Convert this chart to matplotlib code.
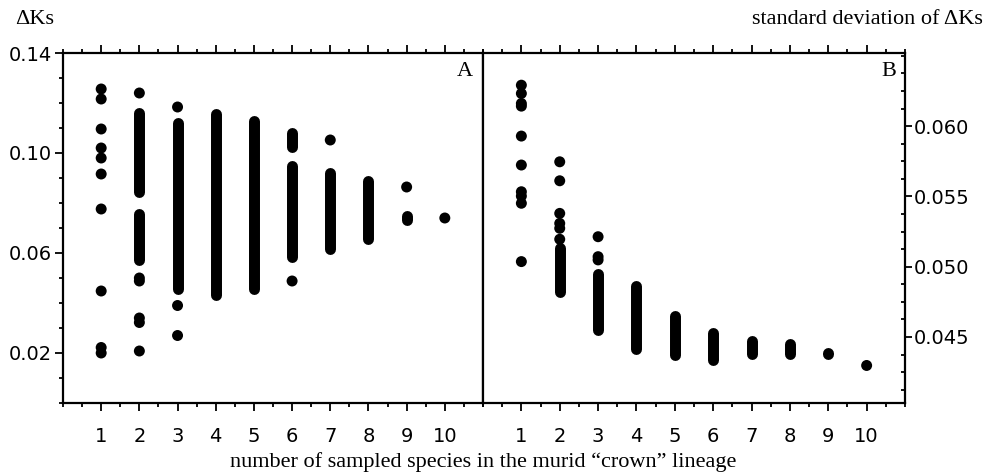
import matplotlib.pyplot as plt
from matplotlib.ticker import MultipleLocator, FixedLocator

# Panel A: delta Ks. Isolated points, plus the solid runs of overlapping
# points given as (x, top, bottom).
a_x = [1]*10 + [2]*6 + [3]*3 + [6, 7, 9, 10]
a_y = [0.1256, 0.1216, 0.1096, 0.1020, 0.0980, 0.0916, 0.0776, 0.0448, 0.0222, 0.0200,
       0.1240, 0.0500, 0.0488, 0.0340, 0.0322, 0.0208,
       0.1184, 0.0390, 0.0270,
       0.0488, 0.1052, 0.0864, 0.0740]
a_run_x = [2, 2, 3, 4, 5, 6, 6, 7, 8, 9]
a_run_top = [0.1162, 0.0758, 0.1122, 0.1158, 0.1130, 0.1082, 0.0950, 0.0922, 0.0890, 0.0750]
a_run_bot = [0.0846, 0.0574, 0.0458, 0.0434, 0.0458, 0.1026, 0.0586, 0.0618, 0.0658, 0.0734]

# Panel B: standard deviation of delta Ks
b_x = [1]*10 + [2]*6 + [3]*3 + [10]
b_y = [0.06291, 0.06232, 0.06161, 0.06142, 0.05929, 0.05723, 0.05533, 0.05502, 0.05451, 0.05036,
       0.05746, 0.05611, 0.05379, 0.05308, 0.05273, 0.05195,
       0.05213, 0.05071, 0.05048,
       0.04297]
b_run_x = [2, 3, 4, 5, 6, 7, 8, 9]
b_run_top = [0.05134, 0.04945, 0.04861, 0.04648, 0.04530, 0.04471, 0.04447, 0.04388]
b_run_bot = [0.04819, 0.04547, 0.04416, 0.04369, 0.04333, 0.04381, 0.04381, 0.04380]

serif = ['Liberation Serif', 'DejaVu Serif']
plt.rcParams['font.family'] = ['DejaVu Sans']

fig = plt.figure(figsize=(9.85, 4.74), dpi=100)
axA = fig.add_axes([63/985, 71/474, 420/985, 350/474])
axB = fig.add_axes([483/985, 71/474, 422/985, 350/474])

dot = 7.9  # marker diameter in points


def draw(ax, x, y, rx, rtop, rbot):
    ax.scatter(x, y, s=dot**2, color='black', edgecolors='none', zorder=3)
    ax.vlines(rx, rbot, rtop, colors='black', linewidth=dot, capstyle='round', zorder=3)
    ax.set_xlim(0, 11)
    ax.xaxis.set_major_locator(FixedLocator(range(1, 11)))
    ax.xaxis.set_minor_locator(MultipleLocator(0.5))
    for sp in ax.spines.values():
        sp.set_linewidth(1.6)
    ax.tick_params(axis='x', which='both', direction='out', top=True, width=1.3,
                   labelsize=14, pad=11)
    ax.tick_params(axis='x', which='major', length=6)
    ax.tick_params(axis='x', which='minor', length=3)


draw(axA, a_x, a_y, a_run_x, a_run_top, a_run_bot)
draw(axB, b_x, b_y, b_run_x, b_run_top, b_run_bot)

axA.set_ylim(0, 0.14)
axA.set_yticks([0.02, 0.06, 0.10, 0.14])
axA.set_yticklabels(['0.02', '0.06', '0.10', '0.14'])
axA.yaxis.set_minor_locator(MultipleLocator(0.01))
axA.tick_params(axis='y', which='both', direction='out', width=1.3, labelsize=14, pad=2)
axA.tick_params(axis='y', which='major', length=6)
axA.tick_params(axis='y', which='minor', length=3)

axB.set_ylim(0.0403, 0.0652)
axB.set_yticks([0.045, 0.050, 0.055, 0.060])
axB.set_yticklabels(['0.045', '0.050', '0.055', '0.060'])
axB.yaxis.set_minor_locator(MultipleLocator(0.00125))
axB.yaxis.tick_right()
axB.tick_params(axis='y', which='both', direction='out', width=1.3, labelsize=14, pad=1)
axB.tick_params(axis='y', which='major', length=5)
axB.tick_params(axis='y', which='minor', length=3, direction='in')

axA.text(0.975, 0.975, 'A', transform=axA.transAxes, ha='right', va='top',
         family=serif, fontsize=16)
axB.text(0.98, 0.975, 'B', transform=axB.transAxes, ha='right', va='top',
         family=serif, fontsize=16)

fig.text(35/985, 1 - 20/474, 'ΔKs', ha='center', va='center', family=serif, fontsize=16)
fig.text(983/985, 1 - 19/474, 'standard deviation of ΔKs', ha='right', va='center',
         family=serif, fontsize=16)
fig.text(483/985, 1 - 462/474, 'number of sampled species in the murid \u201ccrown\u201d lineage',
         ha='center', va='center', family=serif, fontsize=16)

fig.savefig('out.png', dpi=100)
